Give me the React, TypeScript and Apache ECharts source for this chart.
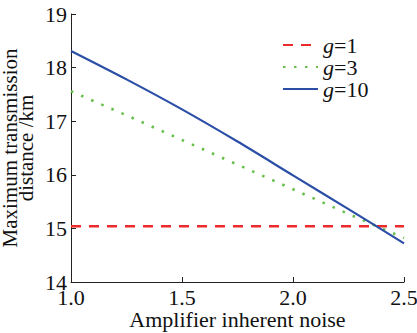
import React, { useEffect, useRef } from "react";
import * as echarts from "echarts";

const noise = [1.0, 1.25, 1.5, 1.75, 2.0, 2.25, 2.5];
const g1 = [15.04, 15.04, 15.04, 15.04, 15.04, 15.04, 15.04];
const g3 = [17.56, 17.11, 16.65, 16.19, 15.73, 15.27, 14.82];
const g10 = [18.31, 17.78, 17.22, 16.62, 15.99, 15.36, 14.72];
const seriesNames = ["g=1", "g=3", "g=10"];
const xTicks = [1.0, 1.5, 2.0, 2.5];
const yTicks = [14, 15, 16, 17, 18, 19];

const FONT = "'Liberation Serif', 'Times New Roman', serif";

export default function App() {
  const ref = useRef<HTMLDivElement>(null);
  useEffect(() => {
    if (!ref.current) return;
    const chart = echarts.init(ref.current, null, { renderer: "svg" });
    const pairs = (ys: number[]) => noise.map((x, i) => [x, ys[i]]);
    const axisLine = { show: true, lineStyle: { color: "#222", width: 1 } };
    chart.setOption({
      animation: false,
      backgroundColor: "#fff",
      grid: {
        left: 71,
        right: 13,
        top: 14,
        bottom: 51,
        containLabel: false,
        outerBoundsMode: "none",
      },
      legend: {
        orient: "vertical",
        left: 282,
        top: 34,
        padding: 0,
        itemWidth: 35,
        itemHeight: 10,
        itemGap: 0,
        data: seriesNames,
        itemStyle: { color: "rgba(0,0,0,0)", borderColor: "rgba(0,0,0,0)", borderWidth: 0 },
        formatter: (n: string) => "{i|g}" + n.slice(1),
        textStyle: {
          fontFamily: FONT,
          fontSize: 22,
          color: "#111",
          lineHeight: 19,
          rich: {
            i: { fontFamily: FONT, fontSize: 22, fontStyle: "italic", color: "#111", lineHeight: 19 },
          },
        },
      },
      xAxis: {
        type: "value",
        min: xTicks[0],
        max: xTicks[xTicks.length - 1],
        interval: 0.5,
        name: "Amplifier inherent noise",
        nameLocation: "middle",
        nameGap: 26,
        nameMoveOverlap: false,
        nameTextStyle: { fontFamily: FONT, fontSize: 22, color: "#111" },
        axisLine,
        axisTick: { show: true, inside: true, length: 5, lineStyle: { color: "#222" } },
        axisLabel: {
          fontFamily: FONT,
          fontSize: 22,
          color: "#111",
          margin: 4,
          formatter: (v: number) => v.toFixed(1),
        },
        splitLine: { show: false },
      },
      yAxis: {
        type: "value",
        min: yTicks[0],
        max: yTicks[yTicks.length - 1],
        interval: 1,
        name: "Maximum transmission\ndistance /km",
        nameLocation: "middle",
        nameGap: 37,
        nameMoveOverlap: false,
        nameTextStyle: { fontFamily: FONT, fontSize: 21, color: "#111", lineHeight: 16 },
        axisLine,
        axisTick: { show: true, inside: true, length: 5, lineStyle: { color: "#222" } },
        axisLabel: { fontFamily: FONT, fontSize: 22, color: "#111", margin: 4 },
        splitLine: { show: false },
      },
      series: [
        {
          name: seriesNames[0],
          type: "line",
          data: pairs(g1),
          symbol: "none",
          lineStyle: { color: "#ee2b2b", width: 2.3, type: [10, 8] },
          itemStyle: { color: "#ee2b2b" },
        },
        {
          name: seriesNames[1],
          type: "line",
          data: pairs(g3),
          symbol: "none",
          lineStyle: { color: "#66bf48", width: 2.6, type: [2.5, 8.5] },
          itemStyle: { color: "#66bf48" },
        },
        {
          name: seriesNames[2],
          type: "line",
          data: pairs(g10),
          symbol: "none",
          smooth: 0.3,
          lineStyle: { color: "#2b4ea6", width: 2.2, type: "solid" },
          itemStyle: { color: "#2b4ea6" },
        },
      ],
    });
    return () => chart.dispose();
  }, []);
  return (
    <div
      ref={ref}
      style={{ position: "fixed", left: 0, top: 0, width: 417, height: 333 }}
    />
  );
}
